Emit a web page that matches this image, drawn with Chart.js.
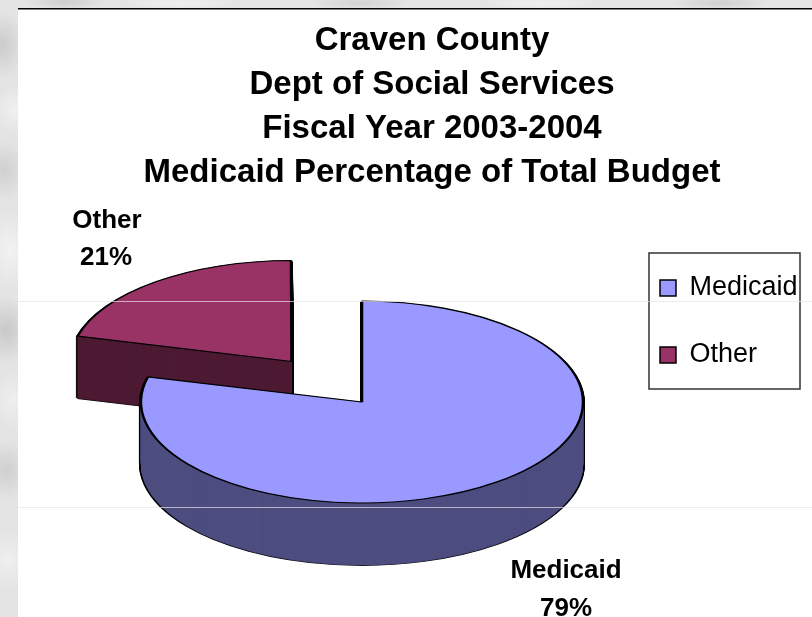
<!DOCTYPE html>
<html>
<head>
<meta charset="utf-8">
<title>Craven County Medicaid</title>
<script src="https://cdn.jsdelivr.net/npm/chart.js@4"></script>
<style>
  html, body { margin: 0; padding: 0; width: 812px; height: 617px; overflow: hidden; }
  body {
    background-color: #e4e4e4;
    background-image:
      radial-gradient(ellipse 24px 34px at 2px 45px, #cbcbcb, transparent),
      radial-gradient(ellipse 22px 24px at 16px 110px, #f1f1f3, transparent),
      radial-gradient(ellipse 26px 30px at 4px 170px, #d0d0d0, transparent),
      radial-gradient(ellipse 26px 40px at 10px 250px, #f2f2f4, transparent),
      radial-gradient(ellipse 26px 34px at 6px 330px, #c8c8c8, transparent),
      radial-gradient(ellipse 24px 30px at 14px 400px, #eeeeee, transparent),
      radial-gradient(ellipse 26px 30px at 6px 470px, #cfcfcf, transparent),
      radial-gradient(ellipse 24px 30px at 8px 560px, #efefef, transparent),
      radial-gradient(ellipse 40px 8px at 65px 2px, #cdcdcd, transparent),
      radial-gradient(ellipse 60px 7px at 180px 3px, #f0f0f0, transparent),
      radial-gradient(ellipse 50px 7px at 360px 3px, #d2d2d2, transparent),
      radial-gradient(ellipse 60px 7px at 540px 3px, #f0f0f0, transparent),
      radial-gradient(ellipse 50px 7px at 720px 3px, #cfcfcf, transparent);
  }
  canvas { display: block; }
</style>
</head>
<body>
<canvas id="chart" width="812" height="617"></canvas>
<script>
const categories = ["Medicaid", "Other"];
const percentages = [79, 21];
const topColors = ["#9999FF", "#993366"];
const sideColors = ["#4D4D80", "#4D1A33"];
const titleLines = [
  "Craven County",
  "Dept of Social Services",
  "Fiscal Year 2003-2004",
  "Medicaid Percentage of Total Budget"
];

const FONT = "'Liberation Sans', Arial, sans-serif";
const centerX = 362, centerY = 402, squash = 0.457, depth = 62;
const explodeOffset = 460;

function drawArc(ctx, arc, fill, border, width) {
  const saved = arc.options;
  const radius = arc.outerRadius;
  // Chart.js grows an offset arc by offset/4 * fix, take that back off
  const fix = 1 - Math.sin(Math.min(Math.PI, arc.circumference));
  arc.outerRadius = radius - (saved.offset / 4) * fix;
  arc.options = { ...saved, backgroundColor: fill, borderColor: border, borderWidth: width };
  arc.draw(ctx);
  arc.options = saved;
  arc.outerRadius = radius;
}

function tilt(ctx, arc, drop) {
  ctx.translate(centerX, centerY + drop);
  ctx.scale(1, squash);
  ctx.translate(-arc.x, -arc.y);
}

const pie3d = {
  id: "pie3d",
  beforeDraw(chart) {
    const ctx = chart.ctx;
    ctx.save();
    ctx.fillStyle = "#ffffff";
    ctx.fillRect(18, 8, 794, 609);
    ctx.fillStyle = "#000000";
    ctx.fillRect(18, 8, 794, 1.5);
    ctx.restore();
  },
  afterLayout(chart) {
    // legend items start at left + label padding, top + label padding
    const legend = chart.legend;
    legend.left = 620;
    legend.right = 800;
    legend.top = 234.5;
    legend.bottom = 617;
    legend.adjustHitBoxes();
  },
  beforeDatasetsDraw(chart) {
    const ctx = chart.ctx;
    const arcs = chart.getDatasetMeta(0).data;
    // back slice first so Medicaid overlaps it
    for (let i = arcs.length - 1; i >= 0; i--) {
      const arc = arcs[i];
      const nudge = arc.options.offset > 0 ? 1 : 0;
      for (let k = depth; k >= 1; k--) {
        ctx.save();
        tilt(ctx, arc, k + nudge);
        drawArc(ctx, arc, "#000000", "#000000", 4);
        ctx.restore();
      }
      for (let k = depth; k >= 1; k--) {
        ctx.save();
        tilt(ctx, arc, k + nudge);
        drawArc(ctx, arc, sideColors[i], sideColors[i], 1);
        ctx.restore();
      }
      ctx.save();
      tilt(ctx, arc, nudge);
      drawArc(ctx, arc, topColors[i], "#000000", 2.5);
      ctx.restore();
    }
    return false;
  },
  afterDraw(chart) {
    const ctx = chart.ctx;
    ctx.save();
    ctx.lineWidth = 1.5;
    ctx.strokeStyle = "#333333";
    ctx.strokeRect(649, 253, 151, 136);

    ctx.fillStyle = "#000000";
    ctx.font = "bold 26px " + FONT;
    ctx.textAlign = "center";
    ctx.textBaseline = "middle";
    ctx.fillText(categories[1], 107, 221);
    ctx.fillText(percentages[1] + "%", 106, 258);
    ctx.fillText(categories[0], 566, 571);
    ctx.fillText(percentages[0] + "%", 566, 609);

    // the two faint lines of the slide background show through everything
    ctx.fillStyle = "rgba(230,230,230,0.7)";
    ctx.fillRect(18, 301, 794, 1);
    ctx.fillRect(18, 507, 794, 1);
    ctx.restore();
  }
};

new Chart(document.getElementById("chart").getContext("2d"), {
  type: "pie",
  data: {
    labels: categories,
    datasets: [
      {
        data: percentages,
        backgroundColor: topColors,
        borderColor: "#000000",
        borderWidth: 1.5,
        offset: [0, explodeOffset],
        hoverOffset: 0
      }
    ]
  },
  options: {
    responsive: false,
    animation: false,
    radius: 221,
    cutout: "0%",
    layout: { padding: { left: 52, top: 19 } },
    plugins: {
      title: {
        display: true,
        text: titleLines,
        color: "#000000",
        font: { family: FONT, size: 33, weight: "bold", lineHeight: 1.33 },
        padding: { top: 0, bottom: 0 }
      },
      legend: {
        display: true,
        position: "right",
        align: "start",
        labels: {
          color: "#000000",
          font: { family: FONT, size: 27 },
          boxWidth: 16,
          boxHeight: 16,
          padding: 40
        }
      },
      tooltip: { enabled: false }
    }
  },
  plugins: [pie3d]
});
</script>
</body>
</html>
